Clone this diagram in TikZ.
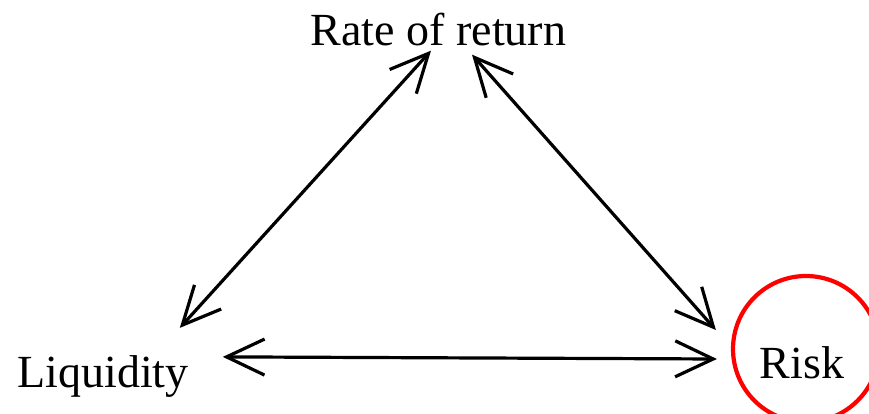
\documentclass[tikz,border=0pt]{standalone}
\usepackage{fontspec}
\setmainfont{Liberation Serif}
\usetikzlibrary{arrows.meta, calc}
\tikzstyle{corner} = [
    inner sep=0pt,
    anchor=base,
    font=\fontsize{46}{52}\selectfont
]
\tikzstyle{ring} = [
    circle,
    inner sep=0pt,
    minimum size=146pt,
    line width=4.2pt,
    draw=red
]
\tikzstyle{arrow} = [
    line width=3.2pt,
    {Straight Barb[length=38pt,width=36pt]}-{Straight Barb[length=38pt,width=36pt]}
]

\begin{document}
\begin{tikzpicture}[x=1pt, y=1pt]

\useasboundingbox (0,0) rectangle (869,413);

\node (rate) [corner] at (438.5,367) {Rate of return};

\node (liquidity) [corner] at (103,26) {Liquidity};

\node (risk) [corner] at (802,35) {Risk};

\node (riskring) [ring] at (806,64) {};

\draw [arrow] ($(liquidity.north east)+(-9,27)$) -- ($(rate.south)+(-7.5,-4)$);
\draw [arrow] ($(rate.south)+(33.5,-8)$) -- ($(riskring.west)+(-15,19)$);
\draw [arrow] ($(liquidity.north east)+(34,-2)$) -- ($(riskring.west)+(-14,-10)$);

\end{tikzpicture}
\end{document}
